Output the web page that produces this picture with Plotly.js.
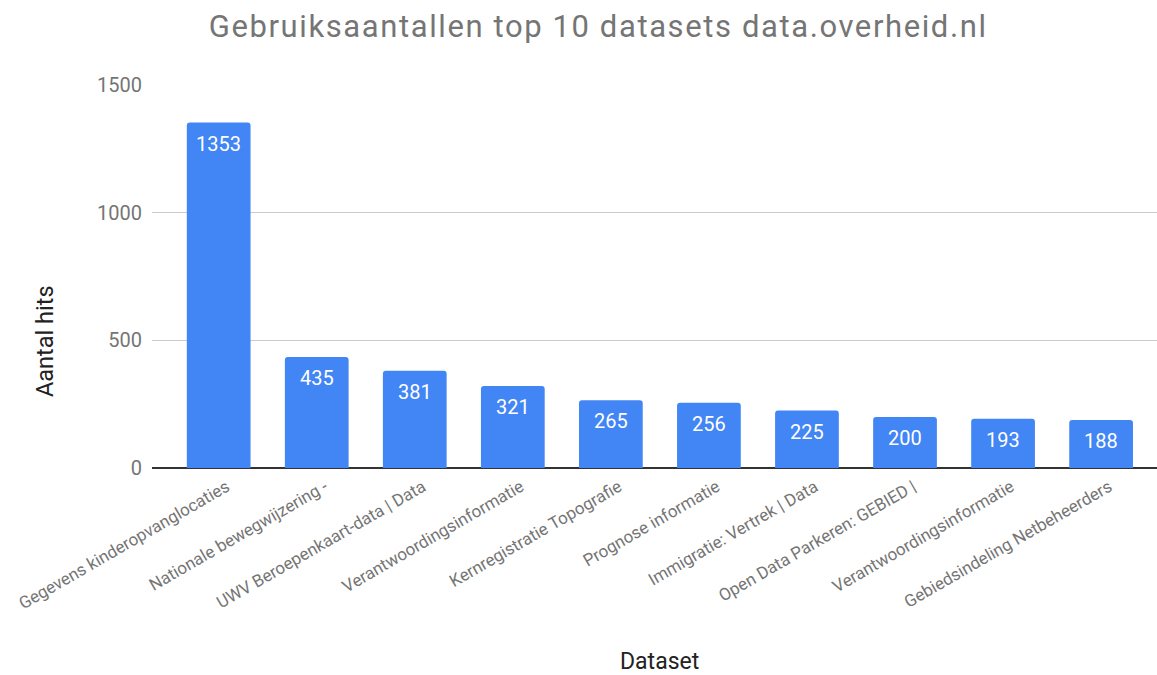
<!DOCTYPE html>
<html><head><meta charset="utf-8">
<script src="https://cdn.plot.ly/plotly-3.0.1.min.js"></script>
<style>html,body{margin:0;padding:0;background:#fff}#chart{width:1157px;height:675px}
.gtitle{letter-spacing:1.6px}</style>
</head><body><div id="chart"></div>
<script>
const labels = ["Gegevens kinderopvanglocaties","Nationale bewegwijzering -","UWV Beroepenkaart-data | Data","Verantwoordingsinformatie","Kernregistratie Topografie","Prognose informatie","Immigratie: Vertrek | Data","Open Data Parkeren: GEBIED |","Verantwoordingsinformatie","Gebiedsindeling Netbeheerders"];
const hits = [1353,435,381,321,265,256,225,200,193,188];
const yTicks = [0,500,1000,1500];
const idx = labels.map((_, i) => i);

const F = 'Roboto, sans-serif';
const trace = {
  type: 'bar', x: idx, y: hits,
  marker: {color: '#4285F4', cornerradius: 3},
  hoverinfo: 'x+y'
};
const annotations = hits.map((v, i) => ({
  x: i, y: v, xref: 'x', yref: 'y', text: String(v), showarrow: false,
  yanchor: 'middle', yshift: -21,
  font: {family: F, size: 20, color: '#ffffff'}
}));
annotations.push({
  text: 'Aantal hits', xref: 'paper', yref: 'paper', x: 0, y: 0.3316,
  xanchor: 'center', yanchor: 'middle', xshift: -107, textangle: -90, showarrow: false,
  font: {family: F, size: 23.5, color: '#222222'}
});
annotations.push({
  text: 'Dataset', xref: 'paper', yref: 'paper', x: 0.5045, y: -0.504,
  xanchor: 'center', yanchor: 'middle', showarrow: false,
  font: {family: F, size: 23, color: '#222222'}
});
const layout = {
  width: 1157, height: 675,
  margin: {l: 152, r: 0, t: 85, b: 207},
  paper_bgcolor: '#fff', plot_bgcolor: '#fff',
  bargap: 0.35,
  showlegend: false,
  title: {text: 'Gebruiksaantallen top 10 datasets data.overheid.nl', x: 0.517, xanchor: 'center', y: 0.962, yanchor: 'middle',
    font: {family: F, size: 31, color: '#757575'}},
  xaxis: {
    tickmode: 'array', tickvals: idx, ticktext: labels, tickangle: -30,
    range: [-0.68, 9.57], showgrid: false, zeroline: false, ticks: '',
    ticklabelshift: 8, ticklabelstandoff: 5,
    tickfont: {family: F, size: 17, color: '#757575'},
    automargin: false
  },
  yaxis: {
    range: [0, 1500], tickmode: 'array', tickvals: yTicks,
    showgrid: true, gridcolor: '#cccccc', gridwidth: 1,
    zeroline: true, zerolinecolor: '#333333', zerolinewidth: 2,
    ticks: '', ticklabelstandoff: 9,
    tickfont: {family: F, size: 20, color: '#757575'},
    automargin: false
  },
  annotations: annotations
};
Plotly.newPlot('chart', [trace], layout, {displayModeBar: false, staticPlot: true});
</script></body></html>
